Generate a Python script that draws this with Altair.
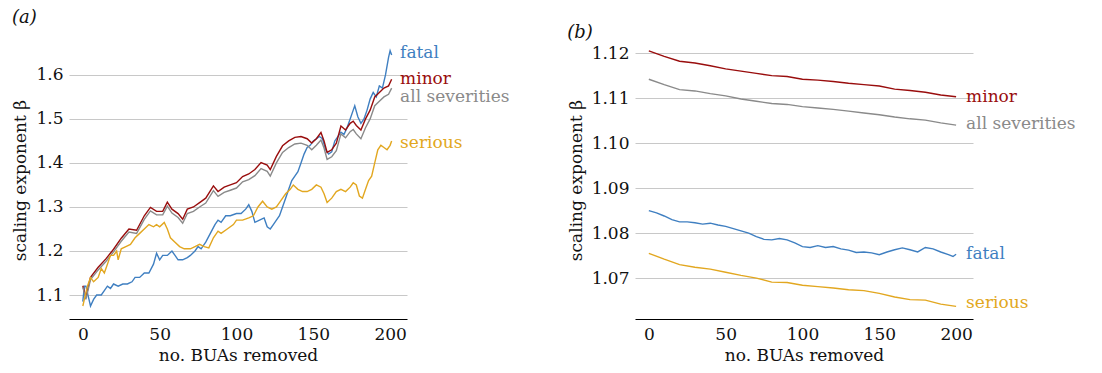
import altair as alt
import pandas as pd

FONT = "DejaVu Serif"
FS = 17
SERIES = ["fatal", "minor", "all severities", "serious"]
COLORS = ["#3f7fc1", "#990d0d", "#8a8a8a", "#e2a720"]

# ---------------- panel (a) ----------------
a_minor_x = [0, 2, 5, 10, 15, 20, 25, 30, 35, 40, 44, 48, 52, 55, 58, 62, 65, 68, 72, 76, 80, 85, 88, 92, 96,
             100, 104, 108, 112, 116, 120, 122, 126, 130, 134, 138, 142, 146, 149, 152, 155, 157, 159, 162,
             165, 168, 171, 174, 176, 178, 181, 184, 187, 190, 193, 196, 199, 201]
a_minor_y = [1.121, 1.095, 1.14, 1.163, 1.182, 1.204, 1.229, 1.25, 1.247, 1.28, 1.299, 1.29, 1.29, 1.311, 1.295,
             1.285, 1.272, 1.295, 1.30, 1.31, 1.32, 1.348, 1.335, 1.345, 1.35, 1.355, 1.369, 1.375, 1.385, 1.401,
             1.395, 1.385, 1.415, 1.439, 1.45, 1.458, 1.46, 1.455, 1.445, 1.455, 1.469, 1.45, 1.424, 1.43,
             1.445, 1.484, 1.475, 1.49, 1.495, 1.485, 1.475, 1.50, 1.52, 1.55, 1.56, 1.57, 1.575, 1.59]
a_all_x = a_minor_x
a_all_y = [1.118, 1.09, 1.135, 1.157, 1.176, 1.198, 1.222, 1.243, 1.24, 1.272, 1.291, 1.282, 1.282, 1.302, 1.286,
           1.276, 1.263, 1.285, 1.29, 1.30, 1.309, 1.337, 1.324, 1.333, 1.338, 1.343, 1.357, 1.362, 1.371, 1.387,
           1.381, 1.37, 1.40, 1.424, 1.435, 1.443, 1.445, 1.44, 1.43, 1.44, 1.452, 1.434, 1.408, 1.414,
           1.428, 1.466, 1.457, 1.471, 1.476, 1.466, 1.455, 1.48, 1.50, 1.53, 1.54, 1.55, 1.556, 1.57]
a_serious_x = [0, 1, 3, 5, 7, 10, 12, 14, 16, 18, 20, 22, 23, 25, 28, 31, 34, 37, 40, 43, 46, 48, 50, 53, 55, 57,
               60, 63, 66, 70, 73, 76, 79, 82, 85, 88, 90, 94, 98, 100, 104, 108, 111, 114, 117, 120, 123, 126,
               129, 132, 135, 137, 140, 143, 146, 149, 152, 155, 157, 159, 162, 165, 168, 171, 174, 176, 178,
               180, 182, 184, 186, 188, 190, 192, 194, 196, 198, 200, 201]
a_serious_y = [1.075, 1.09, 1.12, 1.14, 1.13, 1.14, 1.16, 1.15, 1.17, 1.19, 1.19, 1.20, 1.18, 1.205, 1.21, 1.215,
               1.23, 1.24, 1.25, 1.26, 1.255, 1.26, 1.255, 1.265, 1.25, 1.23, 1.22, 1.21, 1.205, 1.205, 1.21,
               1.215, 1.21, 1.207, 1.23, 1.245, 1.24, 1.25, 1.26, 1.27, 1.27, 1.275, 1.28, 1.30, 1.313, 1.30,
               1.295, 1.30, 1.315, 1.33, 1.34, 1.35, 1.34, 1.335, 1.335, 1.34, 1.35, 1.345, 1.33, 1.31, 1.32,
               1.335, 1.34, 1.335, 1.345, 1.355, 1.35, 1.325, 1.32, 1.34, 1.36, 1.37, 1.40, 1.43, 1.44, 1.435,
               1.43, 1.44, 1.45]
a_fatal_x = [0, 1, 2, 4, 5, 7, 9, 12, 14, 16, 18, 20, 23, 26, 29, 32, 34, 37, 40, 43, 46, 48, 50, 52, 55, 58,
             60, 62, 65, 68, 70, 73, 75, 77, 80, 83, 86, 88, 90, 93, 96, 100, 103, 106, 108, 110, 112, 115, 118,
             120, 122, 124, 126, 128, 130, 132, 134, 136, 138, 140, 142, 144, 146, 148, 150, 152, 154, 156, 158,
             160, 162, 164, 166, 168, 170, 172, 174, 176, 177, 179, 181, 183, 185, 187, 189, 191, 193, 195, 197,
             199, 200, 201]
a_fatal_y = [1.085, 1.12, 1.12, 1.09, 1.075, 1.09, 1.10, 1.10, 1.11, 1.12, 1.115, 1.125, 1.12, 1.125, 1.125,
             1.13, 1.14, 1.14, 1.15, 1.15, 1.17, 1.195, 1.18, 1.19, 1.19, 1.20, 1.19, 1.18, 1.18, 1.185, 1.19,
             1.20, 1.21, 1.205, 1.22, 1.24, 1.26, 1.27, 1.265, 1.28, 1.28, 1.285, 1.285, 1.295, 1.305, 1.29,
             1.265, 1.27, 1.275, 1.255, 1.25, 1.26, 1.27, 1.28, 1.30, 1.32, 1.34, 1.36, 1.37, 1.38, 1.40, 1.42,
             1.435, 1.44, 1.45, 1.455, 1.46, 1.455, 1.43, 1.42, 1.425, 1.45, 1.46, 1.47, 1.465, 1.48, 1.50,
             1.52, 1.53, 1.505, 1.49, 1.50, 1.52, 1.545, 1.56, 1.55, 1.575, 1.57, 1.60, 1.64, 1.655, 1.645]
a_label_y = [1.65, 1.591, 1.55, 1.445]

# ---------------- panel (b) ----------------
b_x = [0, 10, 20, 30, 40, 50, 60, 70, 80, 90, 100, 110, 120, 130, 140, 150, 160, 170, 180, 190, 200]
b_minor_y = [1.1205, 1.1193, 1.1182, 1.1178, 1.1172, 1.1165, 1.1160, 1.1155, 1.1150, 1.1148, 1.1142, 1.1140,
             1.1137, 1.1133, 1.1130, 1.1127, 1.1120, 1.1117, 1.1113, 1.1107, 1.1103]
b_all_y = [1.1142, 1.1130, 1.1119, 1.1116, 1.1110, 1.1105, 1.1098, 1.1093, 1.1088, 1.1086, 1.1081, 1.1078,
           1.1075, 1.1071, 1.1067, 1.1063, 1.1058, 1.1054, 1.1051, 1.1045, 1.1040]
b_serious_y = [1.0755, 1.0742, 1.0730, 1.0724, 1.0720, 1.0713, 1.0706, 1.0700, 1.0691, 1.0690, 1.0684, 1.0681,
               1.0678, 1.0674, 1.0672, 1.0666, 1.0658, 1.0652, 1.0651, 1.0642, 1.0637]
b_fatal_x = [0, 5, 10, 15, 20, 25, 30, 35, 40, 45, 50, 55, 60, 65, 70, 75, 80, 85, 90, 95, 100, 105, 110, 115,
             120, 125, 130, 135, 140, 145, 150, 155, 160, 165, 170, 175, 180, 185, 190, 195, 198, 200]
b_fatal_y = [1.0850, 1.0845, 1.0838, 1.0830, 1.0825, 1.0825, 1.0823, 1.0820, 1.0822, 1.0818, 1.0815, 1.0810,
             1.0805, 1.0800, 1.0792, 1.0786, 1.0785, 1.0788, 1.0785, 1.0778, 1.0770, 1.0768, 1.0772, 1.0768,
             1.0770, 1.0765, 1.0762, 1.0757, 1.0758, 1.0756, 1.0752, 1.0758, 1.0763, 1.0767, 1.0763, 1.0758,
             1.0768, 1.0765, 1.0758, 1.0752, 1.0748, 1.0753]
b_label_y = [1.0754, 1.1103, 1.1043, 1.0645]


def frame(pairs):
    parts = []
    for name, xs, ys in pairs:
        parts.append(pd.DataFrame({"x": xs, "beta": ys, "series": name}))
    return pd.concat(parts, ignore_index=True)


df_a = frame([("fatal", a_fatal_x, a_fatal_y), ("minor", a_minor_x, a_minor_y),
              ("all severities", a_all_x, a_all_y), ("serious", a_serious_x, a_serious_y)])
df_b = frame([("fatal", b_fatal_x, b_fatal_y), ("minor", b_x, b_minor_y),
              ("all severities", b_x, b_all_y), ("serious", b_x, b_serious_y)])
lab_a = pd.DataFrame({"x": [200] * 4, "beta": a_label_y, "series": SERIES})
lab_b = pd.DataFrame({"x": [200] * 4, "beta": b_label_y, "series": SERIES})

color = alt.Color("series:N", scale=alt.Scale(domain=SERIES, range=COLORS), legend=None)


def panel(df, lab, ydom, yticks, fmt, title, tdy):
    xenc = alt.X("x:Q", scale=alt.Scale(domain=[-9, 211], nice=False, zero=False),
                 axis=alt.Axis(values=[0, 50, 100, 150, 200], title="no. BUAs removed", grid=False,
                               domain=True, domainColor="#000000", domainWidth=1.2, ticks=False,
                               labelPadding=7, titlePadding=5))
    yenc = alt.Y("beta:Q", scale=alt.Scale(domain=ydom, nice=False, zero=False),
                 axis=alt.Axis(values=yticks, format=fmt, title="scaling exponent β", grid=True,
                               gridColor="#c8c8c8", domain=False, ticks=False, labelPadding=6,
                               titlePadding=6))
    lines = alt.Chart(df).mark_line(strokeWidth=1.4).encode(x=xenc, y=yenc, color=color)
    text = alt.Chart(lab).mark_text(align="left", baseline="middle", dx=10, font=FONT, fontSize=FS).encode(
        x="x:Q", y="beta:Q", text="series:N", color=color)
    return alt.layer(lines, text).properties(
        width=338, height=278,
        title=alt.TitleParams(title, anchor="start", frame="bounds", font=FONT, fontSize=18,
                              fontStyle="italic", fontWeight="normal", color="#111111", offset=14, dy=tdy))


pa = panel(df_a, lab_a, [1.0455, 1.677], [1.1, 1.2, 1.3, 1.4, 1.5, 1.6], ".1f", "(a)", 0)
pb = panel(df_b, lab_b, [1.0609, 1.1227], [1.07, 1.08, 1.09, 1.10, 1.11, 1.12], ".2f", "(b)", 15)

chart = alt.hconcat(pa, pb, spacing=57).properties(
    padding={"left": 11, "top": 9, "right": 5, "bottom": 5}
).configure_view(stroke=None).configure_axis(
    labelFont=FONT, titleFont=FONT, labelFontSize=FS, titleFontSize=FS,
    labelColor="#111111", titleColor="#111111", titleFontWeight="normal"
)

chart.save("out.html", embed_options={"renderer": "svg", "actions": False})
